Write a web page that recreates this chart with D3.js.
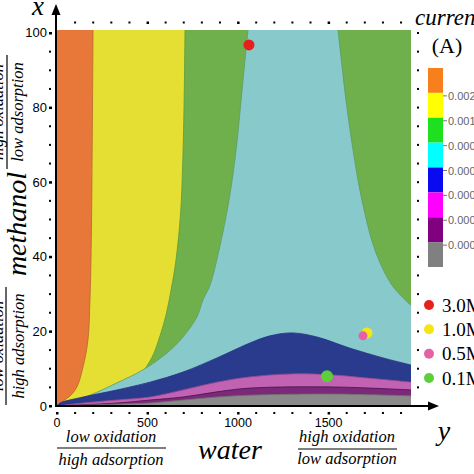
<!DOCTYPE html>
<html><head><meta charset="utf-8">
<script src="https://cdn.jsdelivr.net/npm/d3@7"></script>
<style>body{margin:0;background:#fff;overflow:hidden}svg{display:block}</style>
</head><body><svg id="c" width="474" height="474"></svg>
<script>
// ---------- data ----------
const xTicks = [0, 500, 1000, 1500];
const yTicks = [0, 20, 40, 60, 80, 100];
const xMinor = d3.range(0, 1901, 100);
const yMinor = d3.range(0, 101, 5);

// contour boundaries [water, methanol]
const bOrangeYellow = [[0,0],[33,1.3],[72,2.7],[110,5.1],[144,10.5],[171,17.7],[182,28.4],[188,40],[193,60.6],[199,100.8]];
const bYellowGreen = [[0,0],[99,1.1],[199,2.1],[293,3.5],[376,5.4],[458,8.3],[525,13.1],[569,18.8],[602,24.4],[630,31.1],[657,39.1],[683,52],[697,70],[703,85],[707,100.8]];
const bGreenCyan = [[0,0],[55,0.8],[182,2.9],[331,6.2],[475,9.7],[607,14.2],[696,18.5],[773,23.9],[806,28.4],[845,32.4],[895,41.8],[950,55.2],[989,68.6],[1022,84.7],[1055,100.8]];
const bCyanGreenRight = [[1955,27],[1850,32.4],[1756,41.8],[1684,55.2],[1635,68.6],[1596,82],[1552,100.8]];
const bCyanNavy = [[0,0],[17,0.8],[144,2.4],[331,4.3],[514,6.4],[696,9.1],[884,12.9],[1066,16.9],[1176,18.8],[1298,19.6],[1436,18.5],[1618,15.5],[1800,12.9],[1955,11]];
const bNavyMagenta = [[0,0],[144,0.8],[331,1.6],[514,2.4],[696,4.3],[884,6.4],[1066,7.8],[1298,8.6],[1524,8.3],[1712,7.5],[1955,6.4]];
const bMagentaPurple = [[0,0],[331,0.8],[514,1.6],[696,2.4],[884,3.8],[1066,4.8],[1524,5.1],[1955,4.3]];
const bPurpleGray = [[0,0],[331,0.5],[514,0.8],[696,1.6],[884,2.4],[1066,2.9],[1524,3.2],[1955,2.7]];

const regionColors = ["#e8783a","#e6df33","#6fb04c","#88c9cc","#2a3b8e","#c262b2","#7a2a78","#8a8a8a"];
const legendColors = ["#f7801c","#ffff00","#1ee01e","#00ffff","#0a0af0","#ff00ff","#800080","#808080"];
const legendLabels = ["0.0025","0.0015","0.0008","0.0005","0.0003","0.0002","0.0001"];

const concLabels = ["3.0M","1.0M","0.5M","0.1M"];
const concColors = ["#e8201c","#f6e414","#e462a4","#5ccf3a"];
const ptWater = [1060, 1712, 1690, 1491];
const ptMeth = [96.8, 19.6, 18.8, 8.0];
const ptR = [5.5, 5.5, 4.5, 6];
const ptOrder = [0, 1, 2, 3];

// ---------- scales ----------
const X0 = 57, X1 = 411, Y0 = 406, Y1 = 30;
const xMax = 1955, yMax = 100.8;
const x = d3.scaleLinear().domain([0, xMax]).range([X0, X1]);
const y = d3.scaleLinear().domain([0, yMax]).range([Y0, Y1]);

const svg = d3.select("#c");
const serif = "'Liberation Serif','DejaVu Serif',serif";
const sans = "'Liberation Sans',Arial,sans-serif";

svg.append("clipPath").attr("id","clip").append("rect")
  .attr("x", X0).attr("y", Y1).attr("width", X1 - X0).attr("height", Y0 - Y1);
const plot = svg.append("g").attr("clip-path","url(#clip)");

const lineV = d3.line().x(d => x(d[0])).y(d => y(d[1])).curve(d3.curveCatmullRom.alpha(0.5));
const lineH = d3.line().x(d => x(d[0])).y(d => y(d[1])).curve(d3.curveCatmullRom.alpha(0.5));

// background orange
plot.append("rect").attr("x", x(0)).attr("y", y(yMax)).attr("width", x(xMax)-x(0)).attr("height", y(0)-y(yMax)).attr("fill", regionColors[0]);

function rightRegion(curve, fill, stroke) {
  plot.append("path")
    .attr("d", lineV(curve) + `L${x(xMax)},${y(yMax)}L${x(xMax)},${y(0)}Z`)
    .attr("fill", fill);
  plot.append("path").attr("d", lineV(curve)).attr("fill","none").attr("stroke", stroke).attr("stroke-width", 0.8);
}
function bottomRegion(curve, fill, stroke) {
  plot.append("path")
    .attr("d", lineH(curve) + `L${x(xMax)},${y(0)}Z`)
    .attr("fill", fill);
  plot.append("path").attr("d", lineH(curve)).attr("fill","none").attr("stroke", stroke).attr("stroke-width", 0.8);
}
rightRegion(bOrangeYellow, regionColors[1], "#b2662a");
rightRegion(bYellowGreen, regionColors[2], "#5a9a3a");
rightRegion(bGreenCyan, regionColors[3], "#5a9e60");
// right green
plot.append("path")
  .attr("d", lineV(bCyanGreenRight) + `L${x(xMax)},${y(yMax)}Z`)
  .attr("fill", regionColors[2]);
plot.append("path").attr("d", lineV(bCyanGreenRight)).attr("fill","none").attr("stroke","#5a9e60").attr("stroke-width",0.8);
bottomRegion(bCyanNavy, regionColors[4], "#223080");
bottomRegion(bNavyMagenta, regionColors[5], "#9a4a90");
bottomRegion(bMagentaPurple, regionColors[6], "#4a1048");
bottomRegion(bPurpleGray, regionColors[7], "#707070");

// scatter points
ptOrder.forEach(i => {
  svg.append("circle").attr("cx", x(ptWater[i])).attr("cy", y(ptMeth[i])).attr("r", ptR[i]).attr("fill", concColors[i]);
});

// ---------- axes ----------
const ax = svg.append("g");
ax.append("line").attr("x1", 56).attr("x2", 56).attr("y1", Y0 + 1).attr("y2", 12).attr("stroke","#000").attr("stroke-width",2);
ax.append("path").attr("d","M56,4 L51.5,15 L60.5,15 Z").attr("fill","#000");
ax.append("line").attr("x1", 55).attr("x2", 430).attr("y1", Y0).attr("y2", Y0).attr("stroke","#000").attr("stroke-width",2);
ax.append("path").attr("d",`M439,${Y0} L428,${Y0-4.5} L428,${Y0+4.5} Z`).attr("fill","#000");

// minor dot ticks
xMinor.forEach(v => {
  const big = v % 500 === 0;
  ax.append("rect").attr("x", x(v) - 1).attr("y", 412).attr("width", big ? 2.5 : 2).attr("height", big ? 2.5 : 2).attr("fill","#000");
  if (v > 0) ax.append("rect").attr("x", x(v) - 1).attr("y", 21.5).attr("width", big ? 2.5 : 2).attr("height", big ? 2.5 : 2).attr("fill","#000");
});
yMinor.forEach(v => {
  const big = v % 20 === 0;
  ax.append("rect").attr("x", 49).attr("y", y(v) - 1).attr("width", big ? 3 : 2).attr("height", big ? 2.5 : 2).attr("fill","#000");
  ax.append("rect").attr("x", 417).attr("y", y(v) - 1).attr("width", 2).attr("height", 2).attr("fill","#000");
});
xTicks.forEach(v => {
  ax.append("text").attr("x", x(v)).attr("y", 427).attr("text-anchor","middle")
    .attr("font-family", sans).attr("font-size", 12.5).text(v);
});
yTicks.forEach(v => {
  ax.append("text").attr("x", 47).attr("y", y(v) + 4.5).attr("text-anchor","end")
    .attr("font-family", sans).attr("font-size", 13).text(v);
});

// ---------- axis titles ----------
function txt(t, px, py, size, opts = {}) {
  return svg.append("text").attr("x", px).attr("y", py)
    .attr("font-family", serif).attr("font-size", size)
    .attr("font-style", opts.italic === false ? "normal" : "italic")
    .attr("text-anchor", opts.anchor || "middle")
    .attr("transform", opts.rot ? `rotate(-90,${px},${py})` : null)
    .text(t);
}
txt("x", 38, 15, 27);
txt("y", 444, 440, 28);
txt("water", 230, 459, 28);
txt("low oxidation", 111, 442, 16.5);
svg.append("line").attr("x1", 57).attr("x2", 166).attr("y1", 448).attr("y2", 448).attr("stroke","#000").attr("stroke-width",1.2);
txt("high adsorption", 111, 465, 16.5);
txt("high oxidation", 347, 442, 16.5);
svg.append("line").attr("x1", 298).attr("x2", 397).attr("y1", 449).attr("y2", 449).attr("stroke","#000").attr("stroke-width",1.2);
txt("low adsorption", 347, 464, 16.5);

txt("methanol", 26, 224, 28, {rot: true});
txt("high oxidation", 3, 112, 16.5, {rot: true});
svg.append("line").attr("x1", 7).attr("x2", 7).attr("y1", 55).attr("y2", 169).attr("stroke","#000").attr("stroke-width",1.2);
txt("low adsorption", 23, 112, 16.5, {rot: true});
txt("low oxidation", 3, 346, 16.5, {rot: true});
svg.append("line").attr("x1", 6).attr("x2", 6).attr("y1", 287).attr("y2", 405).attr("stroke","#000").attr("stroke-width",1.2);
txt("high adsorption", 24, 346, 16.5, {rot: true});

// ---------- color legend ----------
txt("current", 415, 25, 23, {anchor: "start"});
txt("(A)", 447, 53, 22, {italic: false});
const ly = d3.scaleBand().domain(d3.range(legendColors.length)).range([68, 267]).padding(0);
legendColors.forEach((c, i) => {
  svg.append("rect").attr("x", 428).attr("y", ly(i)).attr("width", 15).attr("height", ly.bandwidth()).attr("fill", c);
});
legendLabels.forEach((t, i) => {
  const yy = ly(i + 1) + 3;
  svg.append("line").attr("x1", 443).attr("x2", 447).attr("y1", yy).attr("y2", yy).attr("stroke","#777").attr("stroke-width",1);
  svg.append("text").attr("x", 448).attr("y", yy + 4).attr("font-family", sans).attr("font-size", 11).attr("fill","#666").text(t);
});

// ---------- concentration legend ----------
const cy = d3.scalePoint().domain(d3.range(concLabels.length)).range([305, 378]);
concLabels.forEach((t, i) => {
  svg.append("circle").attr("cx", 429).attr("cy", cy(i)).attr("r", 5).attr("fill", concColors[i]);
  svg.append("text").attr("x", 442).attr("y", cy(i) + 6.5).attr("font-family", serif).attr("font-size", 19).text(t);
});
</script></body></html>
